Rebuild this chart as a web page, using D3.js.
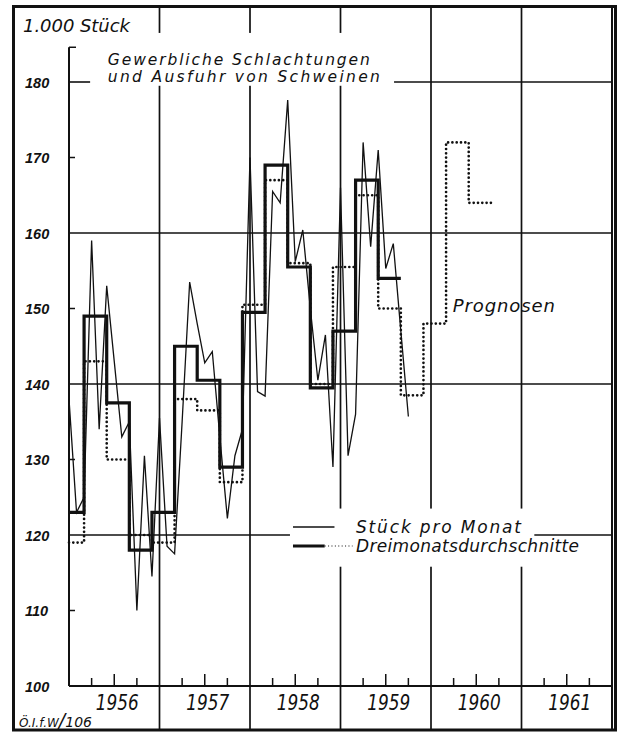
<!DOCTYPE html>
<html>
<head>
<meta charset="utf-8">
<script src="https://cdn.jsdelivr.net/npm/d3@7"></script>
<style>
  body { margin: 0; background: #fff; }
  svg text { font-family: "DejaVu Sans", sans-serif; font-style: italic; fill: #111; }
  svg text.ylabel { font-family: "Liberation Sans", Arial, sans-serif; }
</style>
</head>
<body>
<div id="container"></div>
<script>
/* CONSTANTS AND GLOBALS */
const width = 619,
  height = 733,
  ink = "#111";

/* DATA (1.000 Stück) */
// Stück pro Monat, Jan 1956 - Okt 1959
const monthly = [
  138, 123, 125, 159, 134, 153, 143, 133, 135, 110, 130.5, 114.5,
  135.5, 118.5, 117.5, 135, 153.5, 148, 142.8, 144.3, 133, 122.2, 130.5, 134,
  170, 139, 138.4, 165.5, 164, 177.6, 156.2, 160.4, 150, 140.5, 146.5, 129,
  166, 130.5, 136, 172, 158.2, 171, 155.3, 158.6, 147, 135.7
];
// Dreimonatsdurchschnitte (Monatsgrenzen ab Jan 1956)
const avgBreaks = [0, 2, 5, 8, 11, 14, 17, 20, 23, 26, 29, 32, 35, 38, 41, 44];
const avgValues = [123, 149, 137.5, 118, 123, 145, 140.5, 129, 149.5, 169, 155.5, 139.5, 147, 167, 154];
// Prognosen
const progBreaks = [0, 2, 5, 8, 11, 14, 17, 20, 23, 26, 29, 32, 35, 38, 41, 44, 47, 50, 53, 56];
const progValues = [119, 143, 130, 120, 119, 138, 136.5, 127, 150.5, 167, 156, 140, 155.5, 165, 150, 138.5, 148, 172, 164];

const years = [1956, 1957, 1958, 1959, 1960, 1961];
const yLabels = [100, 110, 120, 130, 140, 150, 160, 170, 180];
const gridValues = [140, 160];
const shortTicks = [110, 130, 150, 170];

/* SVG */
const svg = d3.select("#container")
  .append("svg")
  .attr("width", width)
  .attr("height", height)
  .style("background-color", "#fff")

/* SCALES */
const xScale = d3.scaleLinear()
  .domain([0, 72])
  .range([69, 612])

const yScale = d3.scaleLinear()
  .domain([100, 180])
  .range([686, 82])

const x0 = xScale(0), x1 = xScale(72), yBase = yScale(100), yTop = yScale(184.6);

/* FRAME */
svg.append("rect")
  .attr("x", 13.5).attr("y", 6.5)
  .attr("width", 602).attr("height", 723.5)
  .attr("fill", "none").attr("stroke", ink).attr("stroke-width", 3)

svg.append("line")
  .attr("x1", x1).attr("x2", x1).attr("y1", 6.5).attr("y2", 730)
  .attr("stroke", ink).attr("stroke-width", 2)

/* GRID */
// year lines through the whole frame
svg.selectAll(".year-line")
  .data(years.slice(1))
  .join("line")
  .attr("class", "year-line")
  .attr("x1", (d, i) => xScale(12 * (i + 1)))
  .attr("x2", (d, i) => xScale(12 * (i + 1)))
  .attr("y1", 6.5).attr("y2", 730)
  .attr("stroke", ink).attr("stroke-width", 1.7)

svg.selectAll(".grid")
  .data(gridValues)
  .join("line")
  .attr("class", "grid")
  .attr("x1", x0).attr("x2", x1)
  .attr("y1", d => yScale(d)).attr("y2", d => yScale(d))
  .attr("stroke", ink).attr("stroke-width", 1.6)

// 180 and 120 lines are broken by title and legend
svg.append("line")
  .attr("x1", x0).attr("x2", xScale(2.8))
  .attr("y1", yScale(180)).attr("y2", yScale(180))
  .attr("stroke", ink).attr("stroke-width", 1.6)
svg.append("line")
  .attr("x1", xScale(43.1)).attr("x2", x1)
  .attr("y1", yScale(180)).attr("y2", yScale(180))
  .attr("stroke", ink).attr("stroke-width", 1.6)

// white areas behind title and legend
svg.append("rect")
  .attr("x", xScale(3.5)).attr("y", yScale(186.5))
  .attr("width", xScale(43) - xScale(3.5)).attr("height", yScale(179.5) - yScale(186.5))
  .attr("fill", "#fff")
svg.append("rect")
  .attr("x", xScale(29.3)).attr("y", yScale(123.5))
  .attr("width", xScale(67.5) - xScale(29.3)).attr("height", yScale(115.8) - yScale(123.5))
  .attr("fill", "#fff")

svg.append("line")
  .attr("x1", x0).attr("x2", xScale(29.3))
  .attr("y1", yScale(120)).attr("y2", yScale(120))
  .attr("stroke", ink).attr("stroke-width", 1.6)
svg.append("line")
  .attr("x1", xScale(61.7)).attr("x2", x1)
  .attr("y1", yScale(120)).attr("y2", yScale(120))
  .attr("stroke", ink).attr("stroke-width", 1.6)

/* AXES */
svg.append("line")
  .attr("x1", x0).attr("x2", x0).attr("y1", yTop).attr("y2", yBase)
  .attr("stroke", ink).attr("stroke-width", 2)
svg.append("line")
  .attr("x1", x0).attr("x2", x0 + 7).attr("y1", yTop).attr("y2", yTop)
  .attr("stroke", ink).attr("stroke-width", 1.5)
svg.append("line")
  .attr("x1", x0).attr("x2", x1).attr("y1", yBase).attr("y2", yBase)
  .attr("stroke", ink).attr("stroke-width", 2)

svg.selectAll(".ytick")
  .data(shortTicks)
  .join("line")
  .attr("class", "ytick")
  .attr("x1", x0).attr("x2", x0 + 6)
  .attr("y1", d => yScale(d)).attr("y2", d => yScale(d))
  .attr("stroke", ink).attr("stroke-width", 1.5)

// quarter ticks on the time axis
const qTicks = d3.range(0, 72, 3).filter(m => m % 12 !== 0);
svg.selectAll(".xtick")
  .data(qTicks)
  .join("line")
  .attr("class", "xtick")
  .attr("x1", d => xScale(d)).attr("x2", d => xScale(d))
  .attr("y1", yBase).attr("y2", d => yBase - (d % 12 === 6 ? 12 : 8))
  .attr("stroke", ink).attr("stroke-width", 1.5)

svg.selectAll(".ylabel")
  .data(yLabels)
  .join("text")
  .attr("class", "ylabel")
  .attr("x", 25)
  .attr("y", d => yScale(d) + 5.5)
  .attr("font-size", 14.5)
  .attr("font-weight", "bold")
  .text(d => d)

svg.selectAll(".xlabel")
  .data(years)
  .join("text")
  .attr("class", "xlabel")
  .attr("x", (d, i) => xScale(12 * i + 6.4))
  .attr("y", 710)
  .attr("text-anchor", "middle")
  .attr("font-size", 21)
  .attr("textLength", 43)
  .attr("lengthAdjust", "spacingAndGlyphs")
  .text(d => d)

/* MARKS */
const stepPoints = (breaks, values) =>
  values.map((v, i) => [breaks[i], v]).concat([[breaks[breaks.length - 1], values[values.length - 1]]]);

const stepLine = d3.line()
  .x(d => xScale(d[0]))
  .y(d => yScale(d[1]))
  .curve(d3.curveStepAfter)

svg.append("path")
  .datum(stepPoints(progBreaks, progValues))
  .attr("d", stepLine)
  .attr("fill", "none")
  .attr("stroke", ink)
  .attr("stroke-width", 2.7)
  .attr("stroke-linecap", "round")
  .attr("stroke-dasharray", "0 4.3")

svg.append("path")
  .datum(stepPoints(avgBreaks, avgValues))
  .attr("d", stepLine)
  .attr("fill", "none")
  .attr("stroke", ink)
  .attr("stroke-width", 3.2)

const monthLine = d3.line()
  .x((d, i) => xScale(i))
  .y(d => yScale(d))

svg.append("path")
  .datum(monthly)
  .attr("d", monthLine)
  .attr("fill", "none")
  .attr("stroke", ink)
  .attr("stroke-width", 1.3)

/* TEXT */
svg.append("text")
  .attr("x", 23).attr("y", 32)
  .attr("font-size", 18)
  .attr("textLength", 107)
  .text("1.000 Stück")

svg.append("text")
  .attr("x", xScale(5.15)).attr("y", 64.5)
  .attr("font-size", 15.5)
  .attr("textLength", 262)
  .text("Gewerbliche Schlachtungen")
svg.append("text")
  .attr("x", xScale(5.15)).attr("y", 81.5)
  .attr("font-size", 15.5)
  .attr("textLength", 272)
  .text("und Ausfuhr von Schweinen")

svg.append("text")
  .attr("x", xScale(50.9)).attr("y", yScale(149.5))
  .attr("font-size", 18)
  .attr("textLength", 102)
  .text("Prognosen")

// legend
svg.append("line")
  .attr("x1", xScale(29.7)).attr("x2", xScale(35.2))
  .attr("y1", 527).attr("y2", 527)
  .attr("stroke", ink).attr("stroke-width", 1.3)
svg.append("line")
  .attr("x1", xScale(29.7)).attr("x2", xScale(33.9))
  .attr("y1", 546).attr("y2", 546)
  .attr("stroke", ink).attr("stroke-width", 3.2)
svg.append("line")
  .attr("x1", xScale(33.9)).attr("x2", xScale(37.6))
  .attr("y1", 546).attr("y2", 546)
  .attr("stroke", ink).attr("stroke-width", 1.2)
  .attr("stroke-dasharray", "1 2.4")

svg.append("text")
  .attr("x", 356).attr("y", 533)
  .attr("font-size", 17)
  .attr("textLength", 165)
  .text("Stück pro Monat")
svg.append("text")
  .attr("x", 356).attr("y", 552)
  .attr("font-size", 17)
  .attr("textLength", 223)
  .text("Dreimonatsdurchschnitte")

// source
const src = svg.append("text").attr("x", 19).attr("y", 727)
src.append("tspan").attr("font-size", 12).text("Ö.I.f.W")
src.append("tspan").attr("font-size", 19).text("/")
src.append("tspan").attr("font-size", 14).text("106")
</script>
</body>
</html>
